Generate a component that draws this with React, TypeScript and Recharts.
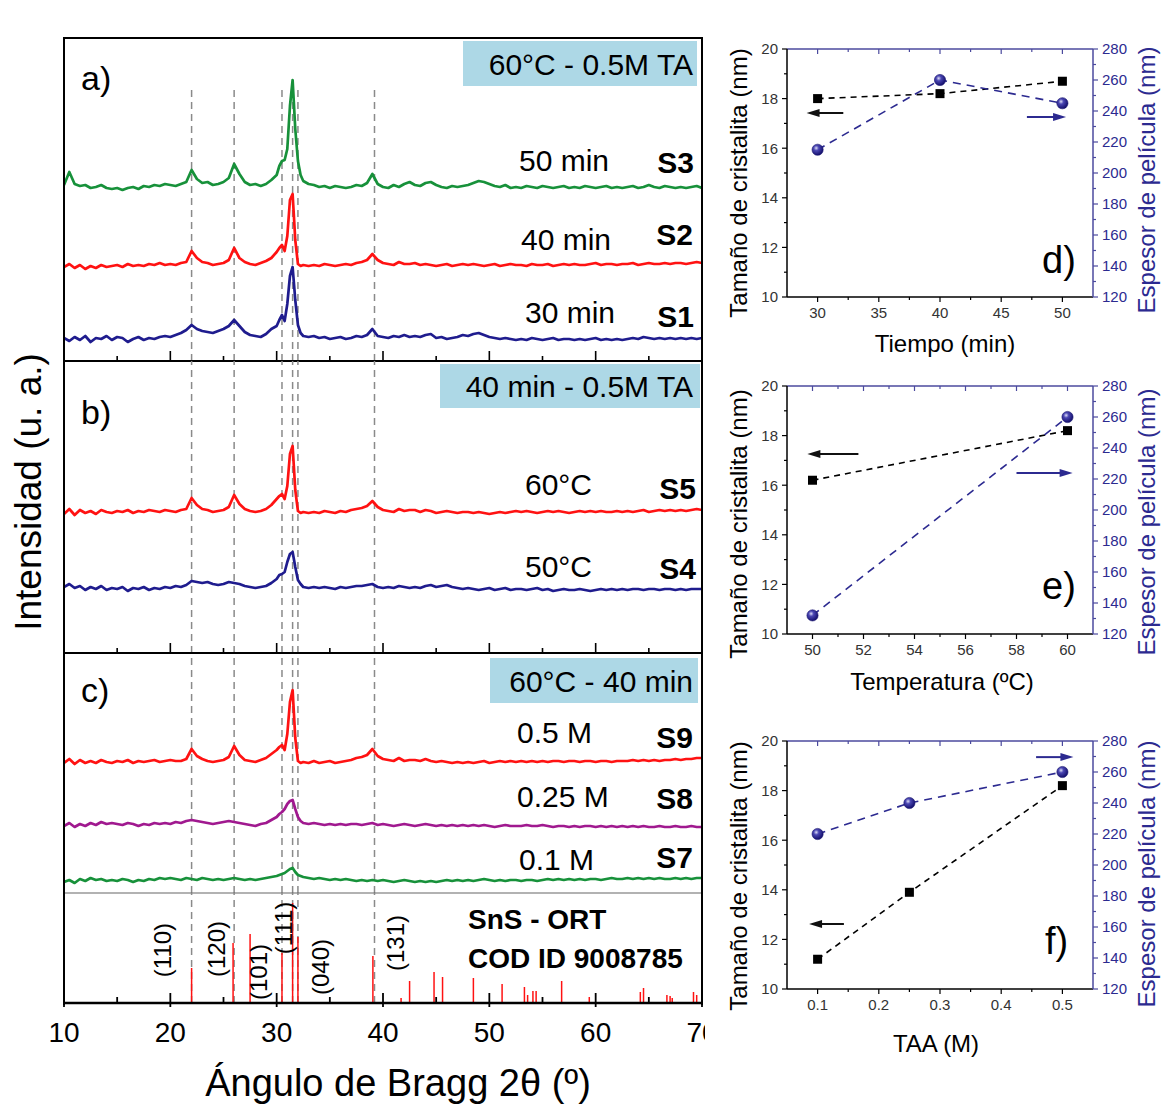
import React from 'react';
import { LineChart, Line, XAxis, YAxis, ReferenceLine, ComposedChart, Scatter } from 'recharts';

const FONT = '"Liberation Sans", Arial, Helvetica, sans-serif';

// 2θ grid (deg); finer steps around the (101)/(111)/(040) group
const twoTheta = [
  10, 10.5, 11, 11.5, 12, 12.5, 13, 13.5, 14, 14.5,
  15, 15.5, 16, 16.5, 17, 17.5, 18, 18.5, 19, 19.5,
  20, 20.5, 21, 21.5, 22, 22.5, 23, 23.5, 24, 24.5,
  25, 25.5, 26, 26.5, 27, 27.5, 28, 28.5, 29, 29.5,
  30, 30.25, 30.5, 30.75, 31, 31.25, 31.5, 31.75, 32, 32.25, 32.5,
  33, 33.5, 34, 34.5, 35, 35.5, 36, 36.5, 37, 37.5,
  38, 38.5, 39, 39.5, 40, 40.5, 41, 41.5, 42, 42.5,
  43, 43.5, 44, 44.5, 45, 45.5, 46, 46.5, 47, 47.5,
  48, 48.5, 49, 49.5, 50, 50.5, 51, 51.5, 52, 52.5,
  53, 53.5, 54, 54.5, 55, 55.5, 56, 56.5, 57, 57.5,
  58, 58.5, 59, 59.5, 60, 60.5, 61, 61.5, 62, 62.5,
  63, 63.5, 64, 64.5, 65, 65.5, 66, 66.5, 67, 67.5,
  68, 68.5, 69, 69.5, 70,
];

// intensities (a.u.)
const s3 = [
  6, 19, 7, 5, 6, 3, 4, 6, 3, 2,
  3, 1, 3, 4, 2, 5, 4, 6, 5, 7,
  6, 5, 7, 9, 21, 12, 8, 9, 6, 7,
  9, 13, 27, 17, 9, 6, 7, 5, 7, 11,
  16, 25, 30, 31, 42, 85, 111, 62, 30, 16, 10,
  7, 6, 4, 5, 3, 5, 4, 3, 4, 6,
  5, 8, 17, 7, 4, 3, 6, 4, 7, 9,
  6, 5, 8, 9, 6, 4, 3, 5, 4, 5,
  6, 8, 10, 9, 7, 5, 4, 6, 3, 4,
  3, 5, 4, 3, 5, 4, 3, 4, 5, 3,
  4, 3, 5, 4, 3, 4, 5, 3, 4, 3,
  4, 5, 3, 4, 6, 4, 3, 5, 4, 3,
  4, 3, 4, 5, 3,
];
const s2 = [
  3, 6, 2, 5, 1, 4, 2, 5, 3, 4,
  5, 3, 6, 4, 5, 4, 6, 5, 7, 5,
  6, 5, 7, 8, 19, 12, 8, 7, 5, 6,
  7, 10, 22, 12, 8, 6, 5, 7, 9, 12,
  18, 22, 25, 19, 34, 70, 76, 30, 6, 4, 5,
  4, 5, 4, 6, 5, 4, 5, 6, 5, 7,
  8, 10, 16, 10, 7, 6, 5, 8, 6, 6,
  7, 5, 6, 5, 4, 5, 6, 4, 5, 6,
  5, 6, 5, 4, 5, 6, 4, 5, 6, 5,
  5, 4, 6, 5, 5, 6, 4, 5, 6, 5,
  6, 5, 5, 6, 7, 5, 6, 6, 5, 6,
  6, 7, 5, 6, 7, 6, 6, 7, 6, 7,
  7, 6, 7, 8, 7,
];
const s1 = [
  4, 1, 5, 2, 6, 0, 4, 3, 6, 2,
  5, 4, 0, 3, 5, 2, 4, 3, 5, 6,
  5, 7, 9, 12, 17, 13, 11, 10, 9, 11,
  13, 16, 22, 16, 10, 7, 6, 5, 8, 13,
  16, 22, 27, 21, 38, 66, 75, 42, 17, 9, 6,
  5, 6, 4, 5, 3, 4, 5, 3, 4, 6,
  5, 7, 13, 6, 5, 4, 6, 5, 7, 5,
  6, 5, 7, 8, 4, 5, 3, 4, 5, 7,
  6, 8, 9, 7, 5, 4, 3, 4, 3, 2,
  3, 2, 4, 3, 2, 3, 4, 2, 3, 3,
  2, 3, 2, 3, 4, 2, 3, 2, 3, 2,
  3, 4, 3, 5, 4, 3, 4, 3, 4, 3,
  4, 3, 4, 3, 4,
];
const s5 = [
  2, 7, 1, 6, 3, 5, 2, 6, 4, 3,
  5, 4, 6, 3, 5, 4, 6, 5, 4, 6,
  5, 4, 6, 7, 18, 11, 7, 6, 4, 5,
  6, 9, 21, 12, 7, 5, 4, 5, 7, 11,
  17, 20, 22, 17, 30, 62, 70, 26, 5, 3, 4,
  3, 4, 3, 5, 4, 3, 5, 4, 6, 7,
  8, 10, 15, 9, 6, 5, 4, 7, 5, 6,
  6, 4, 6, 5, 3, 4, 5, 4, 3, 4,
  4, 3, 4, 3, 2, 3, 4, 3, 4, 5,
  4, 5, 4, 3, 4, 5, 4, 5, 4, 3,
  4, 5, 4, 5, 4, 5, 4, 4, 5, 4,
  5, 4, 5, 6, 4, 5, 6, 5, 6, 5,
  6, 5, 6, 7, 6,
];
const s4 = [
  5, 8, 4, 6, 2, 5, 3, 6, 2, 4,
  3, 5, 1, 4, 3, 5, 2, 4, 3, 5,
  4, 6, 5, 7, 11, 10, 9, 10, 8, 7,
  8, 10, 9, 8, 6, 5, 4, 5, 6, 9,
  13, 17, 18, 20, 30, 38, 40, 25, 12, 8, 5,
  4, 5, 4, 5, 4, 3, 5, 4, 5, 6,
  6, 7, 8, 5, 4, 5, 4, 6, 5, 4,
  5, 4, 6, 7, 5, 6, 7, 5, 4, 3,
  4, 3, 2, 3, 4, 2, 3, 4, 2, 3,
  3, 2, 3, 4, 2, 3, 1, 2, 3, 2,
  2, 3, 2, 1, 2, 3, 2, 3, 2, 3,
  2, 3, 3, 2, 3, 3, 2, 3, 3, 2,
  3, 2, 3, 3, 3,
];
const s9 = [
  3, 7, 2, 6, 3, 5, 3, 6, 4, 3,
  5, 4, 6, 3, 5, 4, 5, 6, 4, 5,
  6, 5, 5, 7, 17, 10, 7, 5, 4, 5,
  6, 9, 20, 11, 6, 5, 4, 6, 8, 12,
  16, 19, 21, 16, 32, 64, 76, 28, 5, 3, 4,
  3, 5, 3, 4, 5, 3, 4, 5, 6, 8,
  9, 11, 17, 10, 7, 6, 5, 8, 5, 6,
  6, 5, 7, 5, 4, 5, 4, 3, 4, 3,
  4, 3, 4, 5, 3, 4, 5, 4, 5, 4,
  5, 4, 5, 4, 5, 4, 5, 5, 4, 5,
  5, 4, 5, 5, 4, 5, 5, 4, 5, 5,
  5, 6, 5, 6, 5, 6, 5, 6, 6, 7,
  6, 7, 7, 8, 8,
];
const s8 = [
  3, 6, 2, 5, 3, 6, 4, 7, 5, 6,
  5, 4, 6, 5, 3, 5, 4, 6, 5, 6,
  5, 7, 6, 8, 9, 8, 7, 6, 5, 6,
  7, 8, 7, 6, 5, 4, 3, 5, 6, 9,
  12, 15, 17, 20, 25, 28, 29, 20, 12, 8, 6,
  5, 6, 5, 4, 5, 4, 5, 4, 5, 5,
  4, 5, 6, 4, 5, 4, 3, 4, 5, 4,
  3, 4, 5, 4, 3, 4, 3, 4, 3, 4,
  3, 4, 3, 4, 3, 2, 3, 4, 3, 3,
  3, 4, 3, 3, 4, 3, 2, 3, 3, 2,
  3, 2, 3, 3, 2, 3, 2, 3, 2, 3,
  2, 3, 2, 3, 2, 2, 3, 2, 2, 3,
  2, 2, 3, 2, 2,
];
const s7 = [
  2, 4, 1, 5, 3, 6, 4, 5, 3, 4,
  3, 5, 4, 2, 4, 3, 5, 4, 6, 5,
  6, 5, 4, 6, 5, 4, 6, 5, 4, 5,
  4, 5, 6, 5, 4, 5, 4, 5, 6, 7,
  8, 9, 10, 11, 13, 15, 16, 12, 9, 8, 7,
  6, 5, 6, 5, 4, 5, 4, 5, 4, 3,
  4, 3, 4, 3, 4, 3, 2, 3, 4, 3,
  2, 3, 2, 3, 2, 3, 4, 3, 4, 3,
  4, 3, 4, 5, 4, 3, 4, 3, 4, 4,
  3, 4, 4, 3, 4, 5, 4, 5, 4, 5,
  4, 5, 4, 5, 5, 4, 5, 6, 5, 5,
  6, 5, 6, 5, 6, 5, 6, 5, 5, 6,
  5, 6, 5, 6, 6,
];

// vertical stacking offsets (a.u.)
const offA = [170, 91, 19]; // S3, S2, S1
const offB = [137, 61]; // S5, S4
const offC = [127, 64, 9]; // S9, S8, S7

// SnS orthorhombic reference (COD 9008785)
const refPos = [22.0, 25.9, 27.5, 30.5, 31.5, 32.0, 39.05, 41.7, 42.5, 44.8, 45.6, 48.5, 51.2, 53.3, 53.6, 54.1, 54.4, 56.8, 59.4, 64.2, 64.5, 66.7, 67.0, 67.2, 69.2, 69.5];
const refInt = [35, 60, 69, 50, 100, 66, 47, 5, 22, 31, 26, 25, 19, 16, 8, 12, 12, 22, 6, 11, 15, 8, 7, 5, 11, 8];
const hklLabels = ['(110)', '(120)', '(101)', '(111)', '(040)', '(131)'];
const hklX = [19.3, 24.3, 28.3, 30.6, 34.1, 41.2];
const hklY = [53, 54, 31, 75, 36, 60];
const markedPeaks = [22.0, 26.0, 30.5, 31.5, 32.0, 39.2];

const xrdTicks = [15, 20, 25, 30, 35, 40, 45, 50, 55, 60, 65];
const xrdTicksAll = [10, ...xrdTicks, 70];

// right-hand panels
const timeMin = [30, 40, 50];
const sizeTime = [18.0, 18.2, 18.7];
const thickTime = [215, 260, 245];
const tempC = [50, 60];
const sizeTemp = [16.2, 18.2];
const thickTemp = [132, 260];
const taaM = [0.1, 0.25, 0.5];
const sizeTaa = [11.2, 13.9, 18.2];
const thickTaa = [220, 240, 260];

const RED = '#ff1212';
const NAVY = '#1f1c8e';
const GREEN = '#17913a';
const PURPLE = '#a0198f';
const INDIGO = '#2c2a90';

type TickCfg = {
  side: 'bottom' | 'top' | 'left' | 'right';
  isMajor: (v: number) => boolean;
  inMajor: number;
  inMinor: number;
  outMajor: number;
  outMinor: number;
  color: string;
  width: number;
  label?: (v: number) => string;
  gap?: number;
  fontSize?: number;
  textColor?: string;
};

function makeTick(c: TickCfg) {
  return (p: any) => {
    const { x, y, payload } = p;
    const v = payload.value;
    const major = c.isMajor(v);
    const i = major ? c.inMajor : c.inMinor;
    const o = major ? c.outMajor : c.outMinor;
    const gap = c.gap || 0;
    const fs = c.fontSize || 12;
    let ln = [x, y, x, y];
    let tx = x;
    let ty = y;
    let anchor: any = 'middle';
    if (c.side === 'bottom') {
      ln = [x, y - i, x, y + o];
      ty = y + gap;
    } else if (c.side === 'top') {
      ln = [x, y + i, x, y - o];
      ty = y - gap;
    } else if (c.side === 'left') {
      ln = [x + i, y, x - o, y];
      tx = x - gap;
      ty = y + fs * 0.36;
      anchor = 'end';
    } else {
      ln = [x - i, y, x + o, y];
      tx = x + gap;
      ty = y + fs * 0.36;
      anchor = 'start';
    }
    return (
      <g>
        <line x1={ln[0]} y1={ln[1]} x2={ln[2]} y2={ln[3]} stroke={c.color} strokeWidth={c.width} />
        {major && c.label ? (
          <text x={tx} y={ty} textAnchor={anchor} fontSize={fs} fill={c.textColor} fontFamily={FONT}>
            {c.label(v)}
          </text>
        ) : null}
      </g>
    );
  };
}

const tens = (v: number) => Math.abs(v / 10 - Math.round(v / 10)) < 1e-6;

function XrdPanel(props: { top: number; height: number; traces: { key: string; values: number[]; offset: number; color: string }[]; dashTop?: number; axis: 'ticks' | 'plain' }) {
  const { top, height, traces, dashTop, axis } = props;
  const rows = twoTheta.map((t, i) => {
    const r: any = { t };
    traces.forEach((tr) => {
      r[tr.key] = tr.values[i] + tr.offset;
    });
    return r;
  });
  const tick = makeTick({ side: 'bottom', isMajor: tens, inMajor: 10, inMinor: 5, outMajor: 0, outMinor: 0, color: '#000', width: 1.6 });
  const plain = makeTick({ side: 'bottom', isMajor: tens, inMajor: 0, inMinor: 0, outMajor: 0, outMinor: 0, color: 'none', width: 0 });
  return (
    <div style={{ position: 'absolute', left: 64, top, width: 638, height: height + 4 }}>
      <LineChart width={638} height={height + 4} data={rows} margin={{ top: 0, right: 0, bottom: 3, left: 0 }}>
        <XAxis
          dataKey="t"
          type="number"
          domain={[10, 70]}
          allowDataOverflow
          ticks={xrdTicks}
          interval={0}
          height={1}
          tickSize={0}
          tickMargin={0}
          tickLine={false}
          axisLine={axis === 'ticks' ? { stroke: '#000', strokeWidth: 2 } : { stroke: '#666', strokeWidth: 1.2 }}
          tick={axis === 'ticks' ? tick : plain}
        />
        <YAxis hide type="number" domain={[0, height]} allowDataOverflow />
        {markedPeaks.map((p) =>
          dashTop != null ? (
            <ReferenceLine key={p} segment={[{ x: p, y: 0 }, { x: p, y: dashTop }]} stroke="#8a8a8a" strokeWidth={1.5} strokeDasharray="7 5" />
          ) : (
            <ReferenceLine key={p} x={p} stroke="#8a8a8a" strokeWidth={1.5} strokeDasharray="7 5" />
          )
        )}
        {traces.map((tr) => (
          <Line key={tr.key} type="linear" dataKey={tr.key} stroke={tr.color} strokeWidth={2.7} strokeLinejoin="round" dot={false} isAnimationActive={false} />
        ))}
      </LineChart>
    </div>
  );
}

function RefPanel() {
  const rows = refPos.map((x, i) => ({ x, y: refInt[i] }));
  const hkl = hklLabels.map((label, i) => ({ x: hklX[i], y: hklY[i], label }));
  const tick = makeTick({
    side: 'bottom', isMajor: tens, inMajor: 10, inMinor: 6, outMajor: 4, outMinor: 0, color: '#000', width: 1.8,
    label: (v) => String(v), gap: 39, fontSize: 28, textColor: '#000',
  });
  const labelShape = (p: any) => (
    <text x={p.cx} y={p.cy} transform={`rotate(-90 ${p.cx} ${p.cy})`} textAnchor="middle" dominantBaseline="central" fontSize={24} fontFamily={FONT} fill="#000">
      {p.payload.label}
    </text>
  );
  return (
    <div style={{ position: 'absolute', left: 34, top: 893, width: 671, height: 170 }}>
      <ComposedChart width={671} height={170} data={rows} margin={{ top: 0, right: 3, bottom: 0, left: 30 }}>
        <XAxis
          dataKey="x"
          type="number"
          domain={[10, 70]}
          allowDataOverflow
          ticks={xrdTicksAll}
          interval={0}
          height={60}
          tickSize={0}
          tickMargin={0}
          tickLine={false}
          axisLine={{ stroke: '#000', strokeWidth: 2.5 }}
          tick={tick}
        />
        <YAxis hide dataKey="y" type="number" domain={[0, 110]} allowDataOverflow />
        {markedPeaks.map((p) => (
          <ReferenceLine key={'d' + p} x={p} stroke="#8a8a8a" strokeWidth={1.5} strokeDasharray="7 5" />
        ))}
        {rows.map((r) => (
          <ReferenceLine key={'s' + r.x} segment={[{ x: r.x, y: 0 }, { x: r.x, y: r.y }]} stroke={RED} strokeWidth={1.5} />
        ))}
        <Scatter data={hkl} shape={labelShape} isAnimationActive={false} />
      </ComposedChart>
    </div>
  );
}

const squareDot = (p: any) => <rect key={p.index} x={p.cx - 4.5} y={p.cy - 4.5} width={9} height={9} fill="#000" />;
const sphereDot = (p: any) => <circle key={p.index} cx={p.cx} cy={p.cy} r={5.6} fill="url(#sph)" stroke="#18146e" strokeWidth={0.6} />;

const arrowShape = (color: string) => (p: any) => {
  const { x1, y1, x2, y2 } = p;
  const dir = Math.sign(x2 - x1) || 1;
  return (
    <g>
      <line x1={x1} y1={y1} x2={x2 - dir * 8} y2={y2} stroke={color} strokeWidth={2} />
      <polygon points={`${x2},${y2} ${x2 - dir * 13},${y2 - 4} ${x2 - dir * 13},${y2 + 4}`} fill={color} />
    </g>
  );
};

function SideChart(props: {
  top: number; xs: number[]; size: number[]; thick: number[]; domain: [number, number]; xTicks: number[];
  isMajorX: (v: number) => boolean; fmtX: (v: number) => string;
  leftArrow: [number, number, number]; rightArrow: [number, number, number];
}) {
  const { top, xs, size, thick, domain, xTicks, isMajorX, fmtX, leftArrow, rightArrow } = props;
  const rows = xs.map((x, i) => ({ x, size: size[i], thick: thick[i] }));
  const bottomTick = makeTick({ side: 'bottom', isMajor: isMajorX, inMajor: 0, inMinor: 0, outMajor: 5, outMinor: 3, color: '#000', width: 1.2, label: fmtX, gap: 21, fontSize: 15, textColor: '#333' });
  const topTick = makeTick({ side: 'top', isMajor: isMajorX, inMajor: 5, inMinor: 3, outMajor: 0, outMinor: 0, color: '#4b4a9e', width: 1.2 });
  const leftTick = makeTick({ side: 'left', isMajor: (v) => v % 2 === 0, inMajor: 0, inMinor: 0, outMajor: 5, outMinor: 3, color: '#000', width: 1.2, label: (v) => String(v), gap: 9, fontSize: 15, textColor: '#333' });
  const rightTick = makeTick({ side: 'right', isMajor: (v) => v % 20 === 0, inMajor: 0, inMinor: 0, outMajor: 5, outMinor: 3, color: '#4b4a9e', width: 1.2, label: (v) => String(v), gap: 9, fontSize: 15, textColor: INDIGO });
  return (
    <div style={{ position: 'absolute', left: 720, top: top - 11, width: 445, height: 303 }}>
      <ComposedChart width={445} height={303} data={rows} margin={{ top: 10, right: 0, bottom: 0, left: 0 }}>
        <XAxis dataKey="x" type="number" domain={domain} allowDataOverflow ticks={xTicks} interval={0} height={44} tickSize={0} tickMargin={0} tickLine={false} axisLine={{ stroke: '#000', strokeWidth: 1.5 }} tick={bottomTick} />
        <XAxis xAxisId="top" orientation="top" dataKey="x" type="number" domain={domain} allowDataOverflow ticks={xTicks} interval={0} height={1} tickSize={0} tickMargin={0} tickLine={false} axisLine={{ stroke: '#4b4a9e', strokeWidth: 1.5 }} tick={topTick} />
        <YAxis yAxisId="l" type="number" domain={[10, 20]} allowDataOverflow ticks={[10, 11, 12, 13, 14, 15, 16, 17, 18, 19, 20]} interval={0} width={67} tickSize={0} tickMargin={0} tickLine={false} axisLine={{ stroke: '#000', strokeWidth: 1.5 }} tick={leftTick} />
        <YAxis yAxisId="r" orientation="right" type="number" domain={[120, 280]} allowDataOverflow ticks={[120, 130, 140, 150, 160, 170, 180, 190, 200, 210, 220, 230, 240, 250, 260, 270, 280]} interval={0} width={72} tickSize={0} tickMargin={0} tickLine={false} axisLine={{ stroke: '#4b4a9e', strokeWidth: 1.5 }} tick={rightTick} />
        <ReferenceLine yAxisId="l" segment={[{ x: leftArrow[0], y: leftArrow[2] }, { x: leftArrow[1], y: leftArrow[2] }]} shape={arrowShape('#111')} />
        <ReferenceLine yAxisId="l" segment={[{ x: rightArrow[0], y: rightArrow[2] }, { x: rightArrow[1], y: rightArrow[2] }]} shape={arrowShape(INDIGO)} />
        <Line yAxisId="l" type="linear" dataKey="size" stroke="#000" strokeWidth={1.6} strokeDasharray="6 5" dot={squareDot} isAnimationActive={false} />
        <Line yAxisId="r" type="linear" dataKey="thick" stroke={INDIGO} strokeWidth={1.6} strokeDasharray="8 6" dot={sphereDot} isAnimationActive={false} />
      </ComposedChart>
    </div>
  );
}

const txt = { fontFamily: FONT, fill: '#000' } as const;

export default function App() {
  return (
    <div style={{ position: 'absolute', left: 0, top: 0, width: 1165, height: 1109, background: '#fff', overflow: 'hidden' }}>
      <svg width={0} height={0} style={{ position: 'absolute' }}>
        <defs>
          <radialGradient id="sph" cx="0.38" cy="0.35" r="0.65">
            <stop offset="0" stopColor="#dcdcf6" />
            <stop offset="0.35" stopColor="#4a46b2" />
            <stop offset="1" stopColor="#140f6c" />
          </radialGradient>
        </defs>
      </svg>

      <XrdPanel
        top={38}
        height={323}
        dashTop={271}
        axis="ticks"
        traces={[
          { key: 's3', values: s3, offset: offA[0], color: GREEN },
          { key: 's2', values: s2, offset: offA[1], color: RED },
          { key: 's1', values: s1, offset: offA[2], color: NAVY },
        ]}
      />
      <XrdPanel
        top={361}
        height={292}
        axis="ticks"
        traces={[
          { key: 's5', values: s5, offset: offB[0], color: RED },
          { key: 's4', values: s4, offset: offB[1], color: NAVY },
        ]}
      />
      <XrdPanel
        top={653}
        height={240}
        axis="plain"
        traces={[
          { key: 's9', values: s9, offset: offC[0], color: RED },
          { key: 's8', values: s8, offset: offC[1], color: PURPLE },
          { key: 's7', values: s7, offset: offC[2], color: GREEN },
        ]}
      />
      <RefPanel />
      <div style={{ position: 'absolute', left: 63, top: 37, width: 640, height: 968, boxSizing: 'border-box', borderTop: '2px solid #000', borderLeft: '2px solid #000', borderRight: '2px solid #000', pointerEvents: 'none' }} />

      <SideChart
        top={49}
        xs={timeMin}
        size={sizeTime}
        thick={thickTime}
        domain={[27.5, 52.5]}
        xTicks={[30, 32.5, 35, 37.5, 40, 42.5, 45, 47.5, 50]}
        isMajorX={(v) => v % 5 === 0}
        fmtX={(v) => String(v)}
        leftArrow={[32.1, 29.1, 17.42]}
        rightArrow={[47.1, 50.3, 17.26]}
      />
      <SideChart
        top={386}
        xs={tempC}
        size={sizeTemp}
        thick={thickTemp}
        domain={[49, 61]}
        xTicks={[50, 51, 52, 53, 54, 55, 56, 57, 58, 59, 60]}
        isMajorX={(v) => v % 2 === 0}
        fmtX={(v) => String(v)}
        leftArrow={[51.8, 49.8, 17.26]}
        rightArrow={[58.0, 60.2, 16.49]}
      />
      <SideChart
        top={741}
        xs={taaM}
        size={sizeTaa}
        thick={thickTaa}
        domain={[0.05, 0.55]}
        xTicks={[0.1, 0.15, 0.2, 0.25, 0.3, 0.35, 0.4, 0.45, 0.5]}
        isMajorX={(v) => Math.abs(v * 10 - Math.round(v * 10)) < 1e-6}
        fmtX={(v) => v.toFixed(1)}
        leftArrow={[0.143, 0.086, 12.62]}
        rightArrow={[0.457, 0.518, 19.35]}
      />

      <svg width={1165} height={1109} style={{ position: 'absolute', left: 0, top: 0, pointerEvents: 'none' }}>
        {/* panel boxes */}
        <rect x={463} y={41} width={234} height={45} fill="#add8e6" />
        <rect x={440} y={364} width={260} height={44} fill="#add8e6" />
        <rect x={490} y={658} width={208} height={45} fill="#add8e6" />
        <text x={693} y={75} textAnchor="end" fontSize={30} {...txt}>60°C - 0.5M TA</text>
        <text x={693} y={397} textAnchor="end" fontSize={30} {...txt}>40 min - 0.5M TA</text>
        <text x={693} y={692} textAnchor="end" fontSize={30} {...txt}>60°C - 40 min</text>

        <text x={81} y={90} fontSize={34} {...txt}>a)</text>
        <text x={81} y={424} fontSize={34} {...txt}>b)</text>
        <text x={81} y={702} fontSize={34} {...txt}>c)</text>

        <text x={519} y={171} fontSize={30} {...txt}>50 min</text>
        <text x={521} y={250} fontSize={30} {...txt}>40 min</text>
        <text x={525} y={323} fontSize={30} {...txt}>30 min</text>
        <text x={525} y={495} fontSize={30} {...txt}>60°C</text>
        <text x={525} y={577} fontSize={30} {...txt}>50°C</text>
        <text x={517} y={743} fontSize={30} {...txt}>0.5 M</text>
        <text x={517} y={807} fontSize={30} {...txt}>0.25 M</text>
        <text x={519} y={870} fontSize={30} {...txt}>0.1 M</text>

        <text x={694} y={173} textAnchor="end" fontSize={30} fontWeight="bold" {...txt}>S3</text>
        <text x={693} y={245} textAnchor="end" fontSize={30} fontWeight="bold" {...txt}>S2</text>
        <text x={694} y={327} textAnchor="end" fontSize={30} fontWeight="bold" {...txt}>S1</text>
        <text x={696} y={499} textAnchor="end" fontSize={30} fontWeight="bold" {...txt}>S5</text>
        <text x={696} y={579} textAnchor="end" fontSize={30} fontWeight="bold" {...txt}>S4</text>
        <text x={693} y={748} textAnchor="end" fontSize={30} fontWeight="bold" {...txt}>S9</text>
        <text x={693} y={809} textAnchor="end" fontSize={30} fontWeight="bold" {...txt}>S8</text>
        <text x={693} y={868} textAnchor="end" fontSize={30} fontWeight="bold" {...txt}>S7</text>

        <text x={468} y={929} fontSize={28} fontWeight="bold" {...txt}>SnS - ORT</text>
        <text x={468} y={968} fontSize={28} fontWeight="bold" {...txt}>COD ID 9008785</text>

        <text x={41} y={492} transform="rotate(-90 41 492)" textAnchor="middle" fontSize={37} {...txt}>Intensidad (u. a.)</text>
        <text x={398} y={1096} textAnchor="middle" fontSize={38} {...txt}>Ángulo de Bragg 2θ (º)</text>

        {/* right panels */}
        <text x={747} y={183} transform="rotate(-90 747 183)" textAnchor="middle" fontSize={24} {...txt}>Tamaño de cristalita (nm)</text>
        <text x={747} y={524} transform="rotate(-90 747 524)" textAnchor="middle" fontSize={24} {...txt}>Tamaño de cristalita (nm)</text>
        <text x={747} y={876} transform="rotate(-90 747 876)" textAnchor="middle" fontSize={24} {...txt}>Tamaño de cristalita (nm)</text>
        <text x={1155} y={180} transform="rotate(-90 1155 180)" textAnchor="middle" fontSize={24} fontFamily={FONT} fill={INDIGO}>Espesor de película  (nm)</text>
        <text x={1155} y={522} transform="rotate(-90 1155 522)" textAnchor="middle" fontSize={24} fontFamily={FONT} fill={INDIGO}>Espesor de película  (nm)</text>
        <text x={1155} y={874} transform="rotate(-90 1155 874)" textAnchor="middle" fontSize={24} fontFamily={FONT} fill={INDIGO}>Espesor de película  (nm)</text>
        <text x={945} y={352} textAnchor="middle" fontSize={24} {...txt}>Tiempo (min)</text>
        <text x={942} y={690} textAnchor="middle" fontSize={24} {...txt}>Temperatura (ºC)</text>
        <text x={936} y={1052} textAnchor="middle" fontSize={24} {...txt}>TAA (M)</text>
        <text x={1042} y={273} fontSize={38} {...txt}>d)</text>
        <text x={1042} y={599} fontSize={38} {...txt}>e)</text>
        <text x={1045} y={954} fontSize={38} {...txt}>f)</text>
      </svg>
    </div>
  );
}
